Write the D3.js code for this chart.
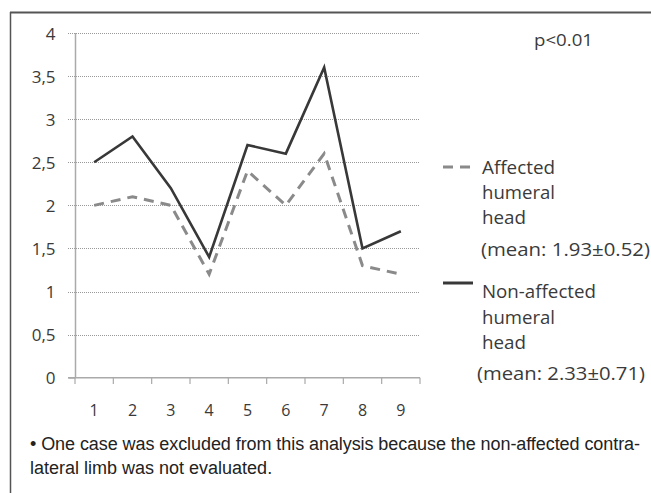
<!DOCTYPE html>
<html><head><meta charset="utf-8">
<script src="https://cdn.jsdelivr.net/npm/d3@7"></script>
<style>body{margin:0;background:#fff}svg{display:block}</style>
</head><body>
<svg id="c" width="651" height="493"></svg>
<script>
const categories = [1,2,3,4,5,6,7,8,9];
const affected = [2.0,2.1,2.0,1.2,2.4,2.0,2.6,1.3,1.2];
const nonAffected = [2.5,2.8,2.2,1.4,2.7,2.6,3.6,1.5,1.7];
const yTicks = [0,0.5,1,1.5,2,2.5,3,3.5,4];
const yTickLabels = ["0","0,5","1","1,5","2","2,5","3","3,5","4"];
const legendAffected = ["Affected","humeral","head"];
const legendNon = ["Non-affected","humeral","head"];
const meanAffected = "(mean: 1.93\u00B10.52)";
const meanNon = "(mean: 2.33\u00B10.71)";
const pText = "p<0.01";
const footnote = ["\u2022 One case was excluded from this analysis because the non-affected contra-","lateral limb was not evaluated."];

const svg = d3.select("#c");
const chartFont = "'Open Sans', 'DejaVu Sans', sans-serif";
const txtCol = "#3a3a3a";
// frame
svg.append("line").attr("x1",10).attr("x2",651).attr("y1",12.5).attr("y2",12.5).attr("stroke","#555").attr("stroke-width",2);
svg.append("line").attr("x1",10.5).attr("x2",10.5).attr("y1",12).attr("y2",493).attr("stroke","#555").attr("stroke-width",1.5);

const x = d3.scaleBand().domain(categories).range([75,420]);
const y = d3.scaleLinear().domain([0,4]).range([377.7,33]);

// gridlines
svg.append("g").selectAll("line").data(yTicks.slice(1)).join("line")
  .attr("x1",68).attr("x2",420).attr("y1",d=>Math.round(y(d))+0.5).attr("y2",d=>Math.round(y(d))+0.5)
  .attr("stroke","#999").attr("stroke-width",1).attr("stroke-dasharray","1,1");

// y axis
const yAxis = d3.axisLeft(y).tickValues(yTicks).tickSize(7).tickFormat((d,i)=>yTickLabels[i]);
const gy = svg.append("g").attr("transform","translate(75.5,0)").call(yAxis);
gy.select(".domain").attr("stroke","#aaa").attr("stroke-width",1.5).attr("d","M0,33V377.7");
gy.selectAll(".tick line").attr("stroke","#aaa");
gy.selectAll(".tick").filter(d=>d>0).select("line").attr("stroke","none");
gy.selectAll("text").attr("x",-20).attr("dy","0.36em").attr("font-family",chartFont).attr("font-size",17).attr("fill",txtCol);

// x axis
const xAxis = d3.axisBottom(x).tickSize(0).tickFormat(d=>d);
const gx = svg.append("g").attr("transform","translate(0,377.7)").call(xAxis);
gx.select(".domain").attr("stroke","#aaa").attr("stroke-width",1.5).attr("d","M68,0H420");
gx.selectAll("text").attr("dy","0").attr("y",38).attr("font-family",chartFont).attr("font-size",16).attr("fill",txtCol);
// band boundary ticks
const bounds = categories.map(c=>x(c)).concat([x.range()[1]]);
svg.append("g").selectAll("line").data(bounds).join("line")
  .attr("x1",d=>d).attr("x2",d=>d).attr("y1",377.7).attr("y2",384).attr("stroke","#aaa").attr("stroke-width",1.2);

const cx = d=>x(d)+x.bandwidth()/2;
const lineA = d3.line().x((d,i)=>cx(categories[i])).y(d=>y(d));
svg.append("path").datum(affected).attr("d",lineA).attr("fill","none")
  .attr("stroke","#8a8a8a").attr("stroke-width",3).attr("stroke-dasharray","10,7");
svg.append("path").datum(nonAffected).attr("d",lineA).attr("fill","none")
  .attr("stroke","#383838").attr("stroke-width",2.6).attr("stroke-linejoin","miter");

// p text
svg.append("text").attr("x",534).attr("y",46).text(pText).attr("font-family",chartFont).attr("font-size",17).attr("fill",txtCol).attr("textLength",59).attr("lengthAdjust","spacingAndGlyphs");

// legend
function addText(t, xx, yy, w, size){
  svg.append("text").attr("x",xx).attr("y",yy).text(t).attr("font-family",chartFont)
    .attr("font-size",size).attr("fill",txtCol).attr("textLength",w).attr("lengthAdjust","spacingAndGlyphs");
}
svg.append("line").attr("x1",443).attr("x2",473).attr("y1",167).attr("y2",167).attr("stroke","#8a8a8a").attr("stroke-width",3).attr("stroke-dasharray","10,7");
const wA = [73,73,44];
legendAffected.forEach((t,i)=>addText(t,482,174+i*25,wA[i],18.5));
addText(meanAffected,481,256,169,17.5);

svg.append("line").attr("x1",443).attr("x2",473).attr("y1",283).attr("y2",283).attr("stroke","#383838").attr("stroke-width",3);
const wN = [114,73,44];
legendNon.forEach((t,i)=>addText(t,482,298+i*25.5,wN[i],18.5));
addText(meanNon,477,380,168,17.5);

// footnote
svg.append("text").attr("x",30).attr("y",450).text(footnote[0]).attr("font-family","'Liberation Sans', Arial, sans-serif").attr("font-size",18).attr("fill","#222").attr("textLength",610).attr("lengthAdjust","spacing");
svg.append("text").attr("x",30).attr("y",474).text(footnote[1]).attr("font-family","'Liberation Sans', Arial, sans-serif").attr("font-size",18).attr("fill","#222");
</script>
</body></html>
